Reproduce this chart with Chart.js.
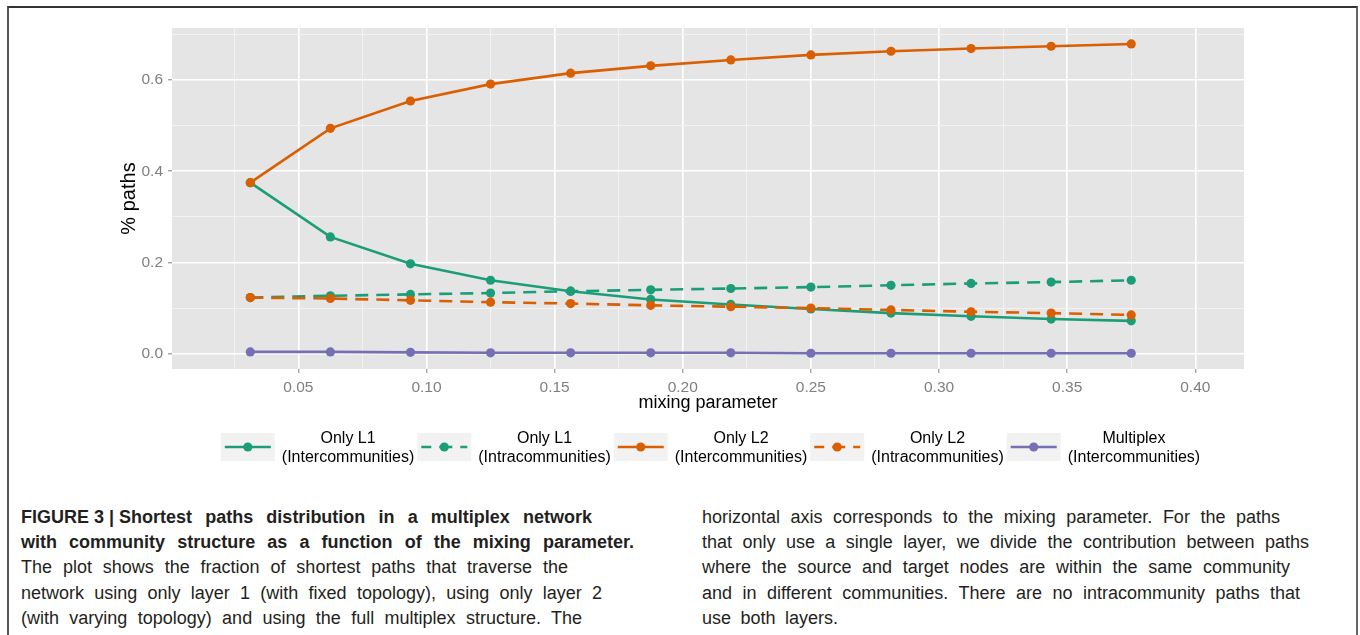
<!doctype html>
<html lang="en">
  <head>
    <meta charset="utf-8" />
    <title>Shortest paths distribution</title>
    <script src="https://cdn.jsdelivr.net/npm/chart.js@4.4.1/dist/chart.umd.min.js"></script>
    <style>
      html,
      body {
        margin: 0;
        padding: 0;
        width: 1360px;
        height: 635px;
        overflow: hidden;
        background: #fff;
        font-family: "Liberation Sans", Arial, sans-serif;
      }
      #frame {
        position: absolute;
        left: 7px;
        top: 6px;
        width: 1347px;
        height: 700px;
        border-top: 2px solid #333;
        border-left: 2px solid #555;
        border-right: 2px solid #666;
      }
      #chartBox {
        position: absolute;
        left: 0;
        top: 0;
        width: 1360px;
        height: 475px;
      }
      .col {
        position: absolute;
        top: 505px;
        font-size: 18px;
        line-height: 25.2px;
        color: #231f20;
      }
      .col div {
        white-space: nowrap;
        text-align: justify;
        text-align-last: justify;
      }
      .col b {
        font-weight: bold;
      }
      .keep {
        display: inline-block;
      }
    </style>
  </head>
  <body>
    <div id="frame"></div>
    <div id="chartBox"><canvas id="pathsChart" width="1360" height="475"></canvas></div>

    <div class="col" style="left: 21px">
      <div style="width: 571px"><b><span class="keep">FIGURE 3 | Shortest</span> paths distribution in a multiplex network</b></div>
      <div style="width: 613px"><b>with community structure as a function of the mixing parameter.</b></div>
      <div style="width: 547px">The plot shows the fraction of shortest paths that traverse the</div>
      <div style="width: 581px">network using only layer 1 (with fixed topology), using only layer 2</div>
      <div style="width: 561px">(with varying topology) and using the full multiplex structure. The</div>
    </div>
    <div class="col" style="left: 702px">
      <div style="width: 578px">horizontal axis corresponds to the mixing parameter. For the paths</div>
      <div style="width: 607px">that only use a single layer, we divide the contribution between paths</div>
      <div style="width: 588px">where the source and target nodes are within the same community</div>
      <div style="width: 598px">and in different communities. There are no intracommunity paths that</div>
      <div style="width: 136px">use both layers.</div>
    </div>

    <script>
      // mixing parameter values (x) and fraction of paths per category
      const mixing = [0.03125, 0.0625, 0.09375, 0.125, 0.15625, 0.1875, 0.21875, 0.25, 0.28125, 0.3125, 0.34375, 0.375];
      const onlyL1Inter = [0.375, 0.256, 0.197, 0.161, 0.137, 0.119, 0.108, 0.098, 0.089, 0.082, 0.076, 0.072];
      const onlyL1Intra = [0.123, 0.127, 0.13, 0.133, 0.137, 0.14, 0.143, 0.146, 0.15, 0.154, 0.157, 0.161];
      const onlyL2Inter = [0.375, 0.494, 0.554, 0.591, 0.615, 0.631, 0.644, 0.655, 0.663, 0.669, 0.674, 0.679];
      const onlyL2Intra = [0.123, 0.121, 0.117, 0.113, 0.11, 0.106, 0.103, 0.1, 0.096, 0.092, 0.089, 0.085];
      const multiplexInter = [0.004, 0.004, 0.003, 0.002, 0.002, 0.002, 0.002, 0.001, 0.001, 0.001, 0.001, 0.001];

      const legendTop = ["Only L1", "Only L1", "Only L2", "Only L2", "Multiplex"];
      const legendBottom = ["(Intercommunities)", "(Intracommunities)", "(Intercommunities)", "(Intracommunities)", "(Intercommunities)"];

      // axis ticks: labelled (major) and unlabelled (minor) grid positions
      const xMajor = [0.05, 0.1, 0.15, 0.2, 0.25, 0.3, 0.35, 0.4];
      const xMinor = [0.025, 0.075, 0.125, 0.175, 0.225, 0.275, 0.325, 0.375];
      const yMajor = [0, 0.2, 0.4, 0.6];
      const yMinor = [0.1, 0.3, 0.5, 0.7];

      const GREEN = "#1b9e77";
      const ORANGE = "#d95f02";
      const PURPLE = "#7570b3";
      const DASH = [13, 8];
      const FONT = "'Liberation Sans', Arial, sans-serif";

      const isIn = (list, v) => list.some((m) => Math.abs(m - v) < 1e-9);
      const toPoints = (ys) => ys.map((y, i) => ({ x: mixing[i], y }));

      function series(label, ys, color, dashed, order) {
        return {
          label,
          data: toPoints(ys),
          borderColor: color,
          backgroundColor: color,
          borderWidth: 2.6,
          borderDash: dashed ? DASH : [],
          pointRadius: 4.6,
          pointBorderWidth: 0,
          pointHoverRadius: 4.6,
          tension: 0,
          order
        };
      }

      const datasets = [
        series("Only L1 (Intercommunities)", onlyL1Inter, GREEN, false, 3),
        series("Only L1 (Intracommunities)", onlyL1Intra, GREEN, true, 4),
        series("Only L2 (Intercommunities)", onlyL2Inter, ORANGE, false, 1),
        series("Only L2 (Intracommunities)", onlyL2Intra, ORANGE, true, 2),
        series("Multiplex (Intercommunities)", multiplexInter, PURPLE, false, 5)
      ];

      // grey panel behind the grid, ggplot style
      const panelBg = {
        id: "panelBg",
        beforeDraw(chart) {
          const { ctx, chartArea: a } = chart;
          ctx.save();
          ctx.fillStyle = "#e5e5e5";
          ctx.fillRect(a.left, a.top, a.right - a.left, a.bottom - a.top);
          ctx.restore();
        }
      };

      // legend row under the x axis title: grey key boxes and two-line labels
      const keyLegend = {
        id: "keyLegend",
        afterDraw(chart) {
          const { ctx, chartArea: a } = chart;
          const boxW = 54, boxH = 28, cy = 447;
          ctx.save();
          ctx.font = "16px " + FONT;
          const widths = legendBottom.map((t, i) =>
            Math.max(ctx.measureText(t).width, ctx.measureText(legendTop[i]).width)
          );
          const itemW = widths.map((w) => boxW + 7 + w + 3);
          const total = itemW.reduce((s, w) => s + w, 0);
          let x = (a.left + a.right) / 2 - total / 2 + 4;
          datasets.forEach((ds, i) => {
            ctx.fillStyle = "#f2f2f2";
            ctx.fillRect(x, cy - boxH / 2, boxW, boxH);
            ctx.strokeStyle = ds.borderColor;
            ctx.lineWidth = ds.borderWidth;
            ctx.setLineDash(ds.borderDash);
            ctx.lineDashOffset = ds.borderDash.length ? 3 : 0;
            ctx.beginPath();
            ctx.moveTo(x + 4, cy);
            ctx.lineTo(x + boxW - 4, cy);
            ctx.stroke();
            ctx.setLineDash([]);
            ctx.fillStyle = ds.backgroundColor;
            ctx.beginPath();
            ctx.arc(x + boxW / 2, cy, ds.pointRadius, 0, Math.PI * 2);
            ctx.fill();

            const tx = x + boxW + 7 + widths[i] / 2;
            ctx.fillStyle = "#000";
            ctx.textAlign = "center";
            ctx.textBaseline = "middle";
            ctx.fillText(legendTop[i], tx, cy - 8.5);
            ctx.fillText(legendBottom[i], tx, cy + 10.5);
            x += itemW[i];
          });
          ctx.restore();
        }
      };

      const tickStyle = { family: FONT, size: 15.5 };

      new Chart(document.getElementById("pathsChart"), {
        type: "line",
        data: { datasets },
        options: {
          responsive: false,
          animation: false,
          events: [],
          layout: { padding: { left: 0, top: 28, right: 116, bottom: 58 } },
          plugins: {
            legend: { display: false },
            tooltip: { enabled: false }
          },
          scales: {
            x: {
              type: "linear",
              min: 0.0007,
              max: 0.419,
              afterBuildTicks: (scale) => {
                scale.ticks = [...xMinor, ...xMajor].sort((p, q) => p - q).map((value) => ({ value }));
              },
              afterFit: (scale) => {
                scale.height = 48;
              },
              border: { display: false },
              grid: {
                color: (c) => (isIn(xMajor, c.tick.value) ? "#ffffff" : "#f2f2f2"),
                lineWidth: (c) => (isIn(xMajor, c.tick.value) ? 1.6 : 1),
                tickColor: (c) => (isIn(xMajor, c.tick.value) ? "#7f7f7f" : "rgba(0,0,0,0)"),
                tickLength: 4,
                tickWidth: 1
              },
              ticks: {
                autoSkip: false,
                maxRotation: 0,
                padding: 5,
                color: "#7f7f7f",
                font: tickStyle,
                callback: (v) => (isIn(xMajor, v) ? v.toFixed(2) : "")
              },
              title: {
                display: true,
                text: "mixing parameter",
                color: "#000",
                font: { family: FONT, size: 18 },
                padding: { top: 0, bottom: 3 }
              }
            },
            y: {
              type: "linear",
              min: -0.0335,
              max: 0.714,
              afterBuildTicks: (scale) => {
                scale.ticks = [...yMajor, ...yMinor].sort((p, q) => p - q).map((value) => ({ value }));
              },
              afterFit: (scale) => {
                scale.width = 172;
              },
              border: { display: false },
              grid: {
                color: (c) => (isIn(yMajor, c.tick.value) ? "#ffffff" : "#f2f2f2"),
                lineWidth: (c) => (isIn(yMajor, c.tick.value) ? 1.6 : 1),
                tickColor: (c) => (isIn(yMajor, c.tick.value) ? "#7f7f7f" : "rgba(0,0,0,0)"),
                tickLength: 4,
                tickWidth: 1
              },
              ticks: {
                autoSkip: false,
                padding: 5,
                color: "#7f7f7f",
                font: tickStyle,
                callback: (v) => (isIn(yMajor, v) ? v.toFixed(1) : "")
              },
              title: {
                display: true,
                text: "% paths",
                color: "#000",
                font: { family: FONT, size: 20 },
                padding: { top: 117, bottom: 0 }
              }
            }
          }
        },
        plugins: [panelBg, keyLegend]
      });
    </script>
  </body>
</html>
